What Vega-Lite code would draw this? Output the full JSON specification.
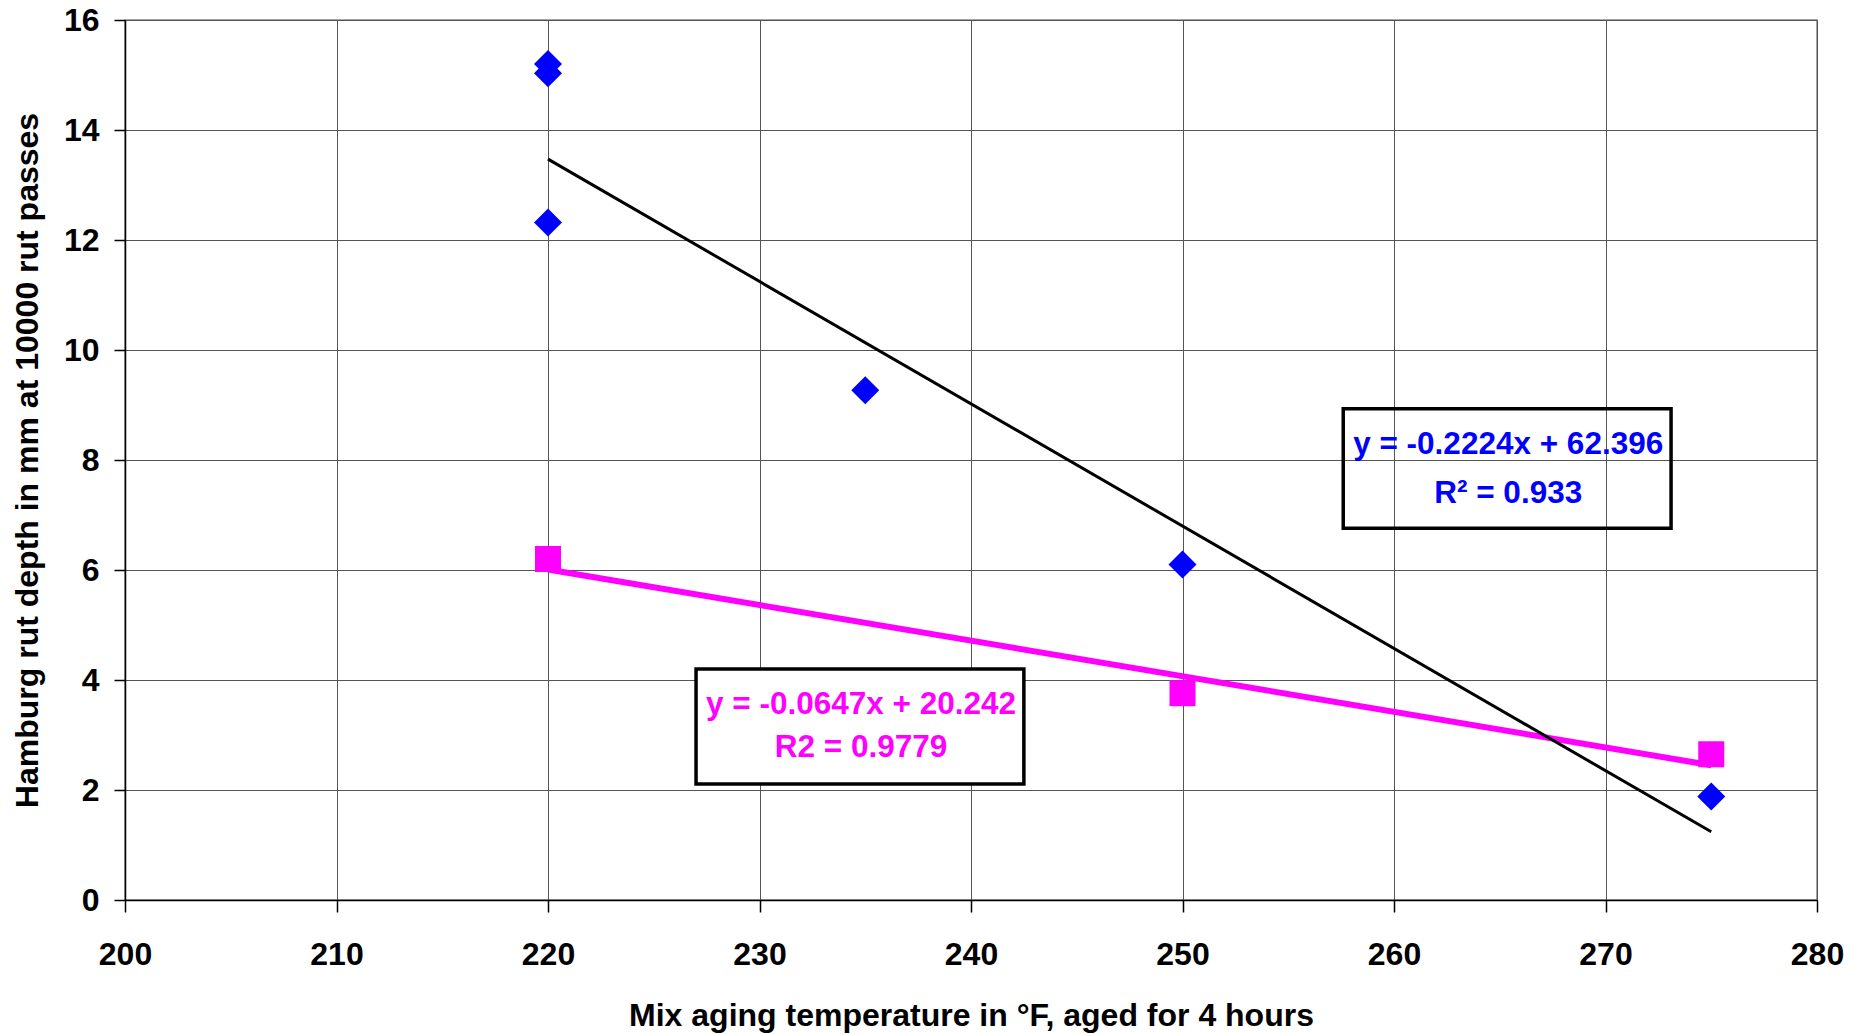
{
  "$schema": "https://vega.github.io/schema/vega-lite/v6.json",
  "width": 1692,
  "height": 880,
  "autosize": {"type": "none"},
  "padding": {"left": 125, "top": 20, "right": 37, "bottom": 134},
  "background": "white",
  "config": {
    "font": "Liberation Sans",
    "view": {"stroke": "#888888", "strokeWidth": 1.5}
  },
  "datasets": {
    "blue": [
      {"temp": 220, "depth": 15.2},
      {"temp": 220, "depth": 15.03},
      {"temp": 220, "depth": 12.32},
      {"temp": 235, "depth": 9.27},
      {"temp": 250, "depth": 6.1},
      {"temp": 275, "depth": 1.88}
    ],
    "pink": [
      {"temp": 220, "depth": 6.2},
      {"temp": 250, "depth": 3.76},
      {"temp": 275, "depth": 2.65}
    ],
    "blueTrend": [
      {"temp": 220, "depth": 13.47},
      {"temp": 275, "depth": 1.24}
    ],
    "pinkTrend": [
      {"temp": 220, "depth": 6.01},
      {"temp": 275, "depth": 2.45}
    ],
    "one": [{"k": 1}]
  },
  "layer": [
    {
      "data": {"name": "pinkTrend"},
      "mark": {"type": "line", "color": "#FF00FF", "strokeWidth": 6},
      "encoding": {
        "x": {
          "field": "temp", "type": "quantitative",
          "scale": {"domain": [200, 280], "nice": false, "zero": false},
          "axis": {
            "values": [200, 210, 220, 230, 240, 250, 260, 270, 280],
            "title": "Mix aging temperature in °F, aged for 4 hours",
            "grid": true, "gridColor": "#555555", "gridWidth": 1,
            "domainColor": "#000000", "domainWidth": 1.5,
            "tickColor": "#000000", "tickSize": 12, "tickWidth": 1.5,
            "labelFontSize": 32, "labelFontWeight": "bold", "labelColor": "#000000",
            "labelPadding": 27, "labelFlush": false, "labelOverlap": false,
            "titleFontSize": 32, "titleFontWeight": "bold", "titleColor": "#000000",
            "titleY": 125, "titleBaseline": "alphabetic"
          }
        },
        "y": {
          "field": "depth", "type": "quantitative",
          "scale": {"domain": [0, 16], "nice": false},
          "axis": {
            "values": [0, 2, 4, 6, 8, 10, 12, 14, 16],
            "title": "Hamburg rut depth in mm at 10000 rut passes",
            "grid": true, "gridColor": "#555555", "gridWidth": 1,
            "domainColor": "#000000", "domainWidth": 1.5,
            "tickColor": "#000000", "tickSize": 11, "tickWidth": 1.5,
            "labelFontSize": 32, "labelFontWeight": "bold", "labelColor": "#000000",
            "labelPadding": 15, "labelFlush": false, "labelOverlap": false,
            "titleFontSize": 32, "titleFontWeight": "bold", "titleColor": "#000000",
            "titleX": -88, "titleY": 440, "titleBaseline": "alphabetic", "titleAngle": 270
          }
        }
      }
    },
    {
      "data": {"name": "blueTrend"},
      "mark": {"type": "line", "color": "#000000", "strokeWidth": 3},
      "encoding": {
        "x": {"field": "temp", "type": "quantitative"},
        "y": {"field": "depth", "type": "quantitative"}
      }
    },
    {
      "data": {"name": "blue"},
      "mark": {"type": "point", "shape": "diamond", "filled": true, "color": "#0000FF", "size": 784, "opacity": 1},
      "encoding": {
        "x": {"field": "temp", "type": "quantitative"},
        "y": {"field": "depth", "type": "quantitative"}
      }
    },
    {
      "data": {"name": "pink"},
      "mark": {"type": "point", "shape": "square", "filled": true, "color": "#FF00FF", "size": 676, "opacity": 1},
      "encoding": {
        "x": {"field": "temp", "type": "quantitative"},
        "y": {"field": "depth", "type": "quantitative"}
      }
    },
    {
      "data": {"name": "one"},
      "mark": {"type": "rect", "fill": null, "fillOpacity": 0, "stroke": "#000000", "strokeWidth": 3.5},
      "encoding": {
        "x": {"datum": 257.6, "type": "quantitative"},
        "x2": {"datum": 273.1},
        "y": {"datum": 8.93, "type": "quantitative"},
        "y2": {"datum": 6.76}
      }
    },
    {
      "data": {"name": "one"},
      "mark": {"type": "rect", "fill": "#FFFFFF", "stroke": "#000000", "strokeWidth": 3.5},
      "encoding": {
        "x": {"datum": 227.0, "type": "quantitative"},
        "x2": {"datum": 242.5},
        "y": {"datum": 4.2, "type": "quantitative"},
        "y2": {"datum": 2.11}
      }
    },
    {
      "data": {"name": "one"},
      "mark": {"type": "text", "text": "y = -0.2224x + 62.396", "fontSize": 31.5, "fontWeight": "bold", "color": "#0000FF", "align": "center", "baseline": "middle"},
      "encoding": {
        "x": {"datum": 265.4, "type": "quantitative"},
        "y": {"datum": 8.27, "type": "quantitative"}
      }
    },
    {
      "data": {"name": "one"},
      "mark": {"type": "text", "text": "R² = 0.933", "fontSize": 31.5, "fontWeight": "bold", "color": "#0000FF", "align": "center", "baseline": "middle"},
      "encoding": {
        "x": {"datum": 265.4, "type": "quantitative"},
        "y": {"datum": 7.38, "type": "quantitative"}
      }
    },
    {
      "data": {"name": "one"},
      "mark": {"type": "text", "text": "y = -0.0647x + 20.242", "fontSize": 31.5, "fontWeight": "bold", "color": "#FF00FF", "align": "center", "baseline": "middle"},
      "encoding": {
        "x": {"datum": 234.8, "type": "quantitative"},
        "y": {"datum": 3.55, "type": "quantitative"}
      }
    },
    {
      "data": {"name": "one"},
      "mark": {"type": "text", "text": "R2 = 0.9779", "fontSize": 31.5, "fontWeight": "bold", "color": "#FF00FF", "align": "center", "baseline": "middle"},
      "encoding": {
        "x": {"datum": 234.8, "type": "quantitative"},
        "y": {"datum": 2.76, "type": "quantitative"}
      }
    }
  ]
}
